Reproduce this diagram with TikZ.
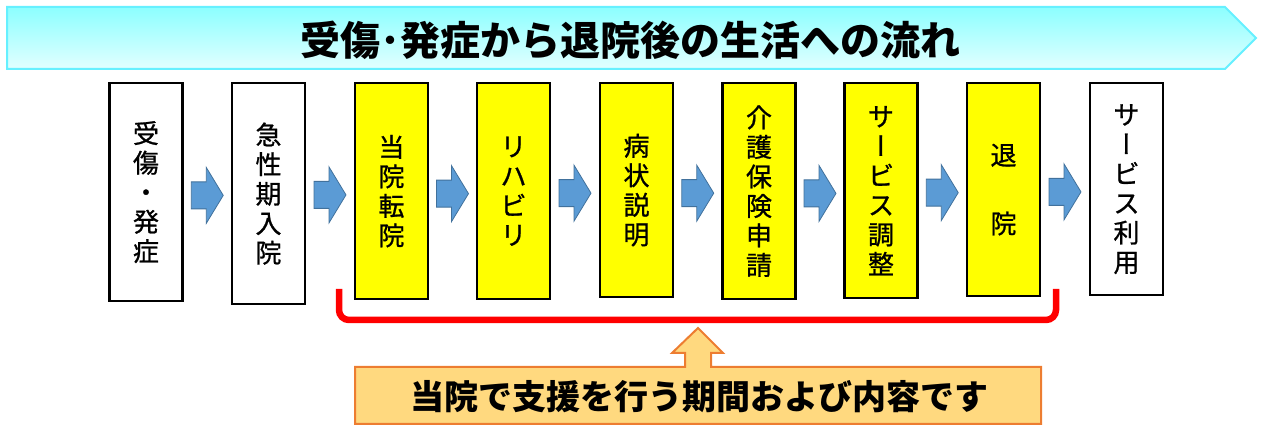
\documentclass[tikz,border=0pt]{standalone}
\usepackage{fontspec}
\setmainfont{Noto Sans CJK JP}
\newfontfamily\jpm[FakeBold=0.9]{Noto Sans CJK JP}
\newfontfamily\jpv[RawFeature=+vert,FakeBold=0.9]{Noto Sans CJK JP}
\usetikzlibrary{calc}
\definecolor{bannertop}{HTML}{8CFFFF}
\definecolor{bannerbot}{HTML}{E2FFFF}
\definecolor{banneredge}{HTML}{66F0FF}
\definecolor{arrowblue}{HTML}{5B9BD5}
\definecolor{arrowedge}{HTML}{41719C}
\definecolor{calloutfill}{HTML}{FFD97F}
\definecolor{calloutedge}{HTML}{ED7D31}
\definecolor{boxyellow}{HTML}{FFFF00}
\definecolor{bracketred}{HTML}{FF0000}
\newcommand{\vbar}{{\jpv ー}}
\begin{document}
\begin{tikzpicture}[x=1pt,y=-1pt,
  stagebox/.style={draw=black, line width=2.3pt, minimum width=73pt, anchor=north,
    align=center, inner sep=0pt, font=\jpm\fontsize{26}{29.5}\selectfont},
  ystagebox/.style={stagebox, fill=boxyellow},
  barrow/.pic={\draw[fill=arrowblue, draw=arrowedge, line width=0.8pt]
     (-16,-13.5) -- (-1,-13.5) -- (-1,-28) -- (16,0) -- (-1,28) -- (-1,13.5) -- (-16,13.5) -- cycle;}
]
\useasboundingbox (0,0) rectangle (1264,435);

% banner
\shade[top color=bannertop, bottom color=bannerbot]
  (7,7) -- (1225,7) -- (1256,38) -- (1225,69) -- (7,69) -- cycle;
\draw[banneredge, line width=2pt]
  (7,7) -- (1225,7) -- (1256,38) -- (1225,69) -- (7,69) -- cycle;
\node[font=\fontsize{40}{42}\bfseries\selectfont, inner sep=0pt] (title) at (630,40)
  {受傷･発症から退院後の生活への流れ};

% stage boxes
\node[stagebox, minimum height=218pt] (b1) at (146,82) {受\\傷\\・\\発\\症};
\node[stagebox, minimum height=221pt] (b2) at (268.5,82) {急\\性\\期\\入\\院};
\node[ystagebox, minimum height=216pt] (b3) at (391.5,82) {当\\院\\転\\院};
\node[ystagebox, minimum height=216pt] (b4) at (513.5,82) {リ\\ハ\\ビ\\リ};
\node[ystagebox, minimum height=214pt] (b5) at (636.5,82) {病\\状\\説\\明};
\node[ystagebox, minimum height=216pt] (b6) at (759,82) {介\\護\\保\\険\\申\\請};
\node[ystagebox, minimum height=215pt] (b7) at (881,82) {サ\\\vbar\\ビ\\ス\\調\\整};
\node[ystagebox, minimum height=213pt] (b8) at (1003.5,82) {退\\[39pt]院};
\node[stagebox, minimum height=212pt] (b9) at (1126.5,82) {サ\\\vbar\\ビ\\ス\\利\\用};

% block arrows between boxes
\foreach \a/\b in {b1/b2,b2/b3,b3/b4,b4/b5,b5/b6,b6/b7,b7/b8,b8/b9}{
  \pic at ($(\a.east)!0.5!(\b.west) + (0,2.5)$) {barrow};
}

% red bracket
\coordinate (brL) at (339,289);
\coordinate (brR) at (1056,289);
\draw[bracketred, line width=6.5pt, rounded corners=10pt]
  (brL) -- (brL |- 0,320) -- (brR |- 0,320) -- (brR);

% callout with up arrow
\draw[calloutedge, fill=calloutfill, line width=2pt]
  (355,367) -- (685,367) -- (685,353) -- (672,353) -- (698,328) -- (723,353)
  -- (711,353) -- (711,367) -- (1041,367) -- (1041,424) -- (355,424) -- cycle;
\node[font=\fontsize{34}{36}\bfseries\selectfont, inner sep=0pt] (note) at (699,397)
  {当院で支援を行う期間および内容です};
\end{tikzpicture}
\end{document}
